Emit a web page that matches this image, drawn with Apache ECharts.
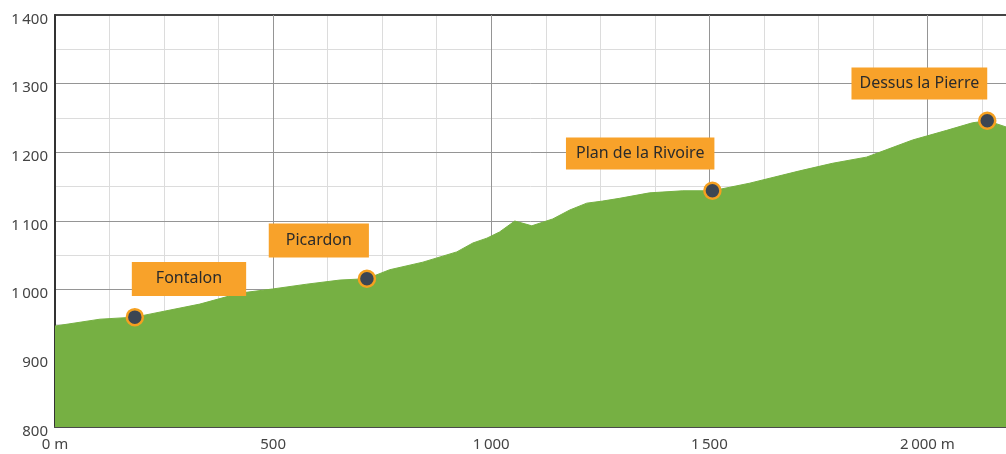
<!DOCTYPE html>
<html>
<head>
<meta charset="utf-8">
<script src="https://cdn.jsdelivr.net/npm/echarts@6/dist/echarts.min.js"></script>
<style>
html,body{margin:0;padding:0;background:#fff;}
#c{width:1006px;height:454px;}
</style>
</head>
<body>
<div id="c"></div>
<script>
// Elevation profile (distance in m, elevation in m)
const distances = [0, 103, 183, 332, 424, 499, 577, 653, 715, 767, 843, 921, 958, 990, 1019, 1054, 1093, 1141, 1180, 1219, 1255, 1294, 1363, 1439, 1507, 1592, 1707, 1782, 1860, 1890, 1966, 2044, 2103, 2137, 2180];
const elevations = [947, 957, 960, 979, 995, 1001, 1008, 1014, 1016, 1029, 1040, 1055, 1068, 1075, 1084, 1100, 1093, 1103, 1116, 1126, 1129, 1133, 1141, 1144, 1144, 1155, 1173, 1184, 1193, 1200, 1218, 1232, 1243, 1246, 1237];

// Named places
const places = ['Fontalon', 'Picardon', 'Plan de la Rivoire', 'Dessus la Pierre'];
const placeDist = [183, 715, 1507, 2137];
const placeElev = [960, 1016, 1144, 1246];

// Tick labels
const xTickValues = [0, 500, 1000, 1500, 2000];
const xTickLabels = ['0 m', '500', '1\u2009000', '1\u2009500', '2\u2009000 m'];
const yTickValues = [800, 900, 1000, 1100, 1200, 1300, 1400];
const yTickLabels = ['800', '900', '1\u2009000', '1\u2009100', '1\u2009200', '1\u2009300', '1\u2009400'];

const FONT = 'Noto Sans';
const GREEN = '#76b043';
const ORANGE = '#f8a22a';

// label placement styles (per place index)
const labelAlign = ['left', 'right', 'right', 'right'];
const labelOffsetX = [-3, 2, 2, 0];
const labelPad = [[9, 24], [9, 17], [8, 10], [8, 8]];

const profile = distances.map((d, i) => [d, elevations[i]]);
const markers = places.map((n, i) => ({
  name: n,
  value: [placeDist[i], placeElev[i]],
  label: {
    align: labelAlign[i],
    offset: [labelOffsetX[i], 0],
    padding: labelPad[i]
  }
}));

const chart = echarts.init(document.getElementById('c'), null, {renderer: 'canvas'});
chart.setOption({
  animation: false,
  backgroundColor: '#ffffff',
  grid: {left: 55, right: 0, top: 15, bottom: 27, containLabel: false},
  xAxis: [
    { // main axis with labels and major lines
      type: 'value', min: 0, max: 2180, interval: 500, position: 'bottom',
      axisLine: {show: true, onZero: false, lineStyle: {color: '#4a4a4a', width: 2}},
      axisTick: {show: false},
      axisLabel: {
        show: true, color: '#444', fontFamily: FONT, fontSize: 15, margin: 10,
        showMaxLabel: false,
        formatter: v => { const k = xTickValues.indexOf(v); return k >= 0 ? xTickLabels[k] : ''; }
      },
      splitLine: {show: true, showMinLine: false, showMaxLine: false, lineStyle: {color: '#959595', width: 1}},
      z: 3
    },
    { // minor lines + top border
      type: 'value', min: 0, max: 2180, interval: 125, position: 'top',
      axisLine: {show: true, onZero: false, lineStyle: {color: '#444', width: 2}},
      axisTick: {show: false},
      axisLabel: {show: false},
      splitLine: {show: true, showMinLine: false, showMaxLine: false, lineStyle: {color: '#dcdcdc', width: 1}},
      z: 1
    }
  ],
  yAxis: [
    {
      type: 'value', min: 800, max: 1400, interval: 100, position: 'left',
      axisLine: {show: true, onZero: false, lineStyle: {color: '#333', width: 2}},
      axisTick: {show: false},
      axisLabel: {
        show: true, color: '#444', fontFamily: FONT, fontSize: 15, margin: 7,
        verticalAlign: 'top', lineHeight: 9,
        formatter: v => { const k = yTickValues.indexOf(v); return k >= 0 ? yTickLabels[k] : ''; }
      },
      splitLine: {show: true, showMinLine: false, showMaxLine: false, lineStyle: {color: '#959595', width: 1}},
      z: 3
    },
    {
      type: 'value', min: 800, max: 1400, interval: 50, position: 'right',
      axisLine: {show: false},
      axisTick: {show: false},
      axisLabel: {show: false},
      splitLine: {show: true, showMinLine: false, showMaxLine: false, lineStyle: {color: '#dcdcdc', width: 1}},
      z: 1
    }
  ],
  series: [
    {
      type: 'line',
      xAxisIndex: 0, yAxisIndex: 0,
      data: profile,
      showSymbol: false,
      symbol: 'none',
      smooth: false,
      lineStyle: {color: GREEN, width: 1},
      areaStyle: {color: GREEN, opacity: 1, origin: 'start'},
      z: 4
    },
    {
      type: 'scatter',
      xAxisIndex: 0, yAxisIndex: 0,
      data: markers,
      symbol: 'circle',
      symbolSize: 16,
      itemStyle: {color: '#3c4653', borderColor: '#f5a020', borderWidth: 2.5, opacity: 1},
      label: {
        show: true,
        position: 'top',
        distance: 12,
        formatter: p => p.name,
        color: '#2b2b2b',
        fontFamily: FONT,
        fontSize: 16,
        backgroundColor: ORANGE,
        verticalAlign: 'bottom'
      },
      z: 6
    }
  ]
});
</script>
</body>
</html>
